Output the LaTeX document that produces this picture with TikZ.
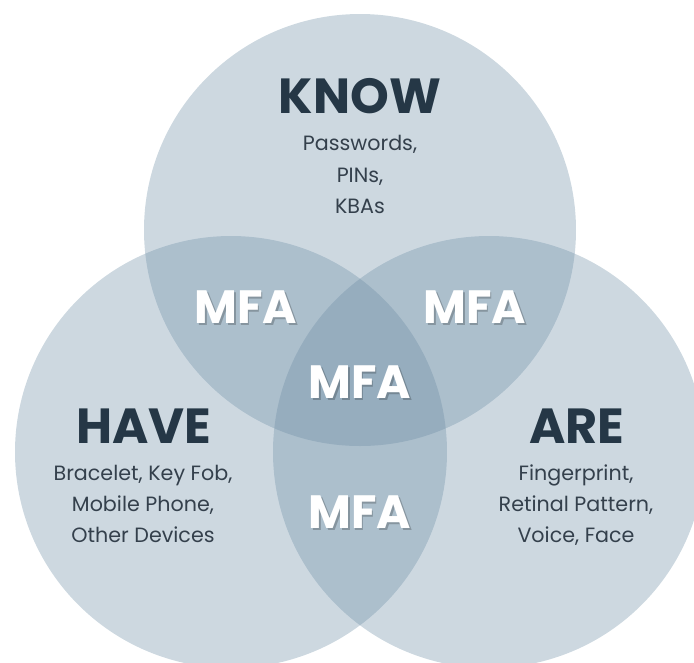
\documentclass[tikz,border=0pt]{standalone}
\usepackage{fontspec}
\setmainfont{Poppins}
\definecolor{vennblue}{RGB}{104,138,162}
\definecolor{headnavy}{RGB}{37,55,70}
\definecolor{bodygrey}{RGB}{52,64,76}
\tikzset{
  venn/.style={draw opacity=0, fill=vennblue, fill opacity=0.33},
  head/.style={anchor=base, inner sep=0pt, text=headnavy, font=\fontsize{37}{42}\selectfont\bfseries},
  body/.style={anchor=base, inner sep=0pt, text=bodygrey, font=\fontsize{15.5}{19}\selectfont},
  mfa/.style={anchor=base, inner sep=0pt, text=white, font=\fontsize{35}{40}\selectfont\bfseries},
  mfashadow/.style={mfa, text=black, text opacity=0.22},
}
\begin{document}
\begin{tikzpicture}[x=0.75pt,y=0.75pt,yscale=-1,xscale=1]
\useasboundingbox (0,0) rectangle (694,662);
\clip (0,0) rectangle (694,662);

%Shape: Circle [know]
\draw  [venn] (360,230) circle (216) ;
%Shape: Circle [have]
\draw  [venn] (231,452) circle (216) ;
%Shape: Circle [are]
\draw  [venn] (489,452) circle (216) ;

%Text: KNOW
\node [head] (know) at (360,113) {KNOW};
\node [body] (know1) at (360,150) {Passwords,};
\node [body] (know2) at (360,182) {PINs,};
\node [body] (know3) at (360,213) {KBAs};
%Text: HAVE
\node [head] (have) at (144,443) {HAVE};
\node [body] (have1) at (143,480) {Bracelet, Key Fob,};
\node [body] (have2) at (143,511) {Mobile Phone,};
\node [body] (have3) at (143,542) {Other Devices};
%Text: ARE
\node [head] (are) at (577,443) {ARE};
\node [body] (are1) at (576,480) {Fingerprint,};
\node [body] (are2) at (576,511) {Retinal Pattern,};
\node [body] (are3) at (576,542) {Voice, Face};

%Text: MFA shadows
\node [mfashadow] (mfaKHs) at (247.5,325.5) {MFA};
\node [mfashadow] (mfaKAs) at (476.5,325.5) {MFA};
\node [mfashadow] (mfaAlls) at (361.5,400.5) {MFA};
\node [mfashadow] (mfaHAs) at (361.5,530.5) {MFA};
%Text: MFA
\node [mfa] (mfaKH) at (246,323) {MFA};
\node [mfa] (mfaKA) at (475,323) {MFA};
\node [mfa] (mfaAll) at (360,398) {MFA};
\node [mfa] (mfaHA) at (360,528) {MFA};

\end{tikzpicture}
\end{document}
